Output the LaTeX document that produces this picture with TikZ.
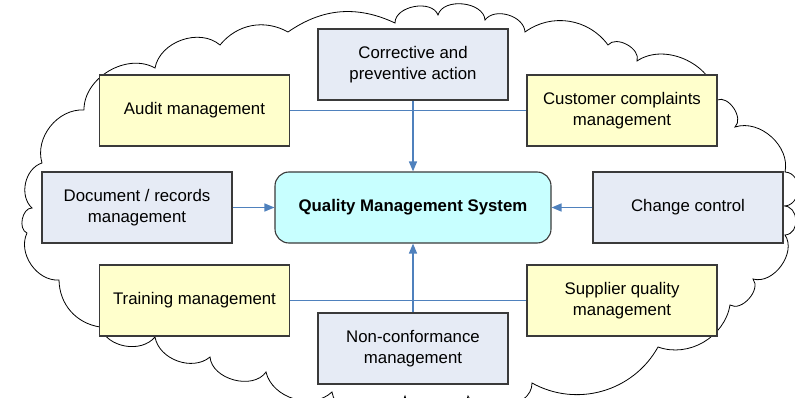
\documentclass[tikz,border=0pt]{standalone}
\usepackage{fontspec}
\setmainfont{Liberation Sans}
\usetikzlibrary{arrows.meta}
\definecolor{boxyellow}{HTML}{FFFFCC}
\definecolor{boxblue}{HTML}{E6EBF5}
\definecolor{boxcyan}{HTML}{C8FFFF}
\definecolor{linkblue}{HTML}{4F81BD}
\definecolor{boxedge}{HTML}{3A3A3A}
\tikzset{
  qbox/.style={draw=boxedge, line width=1.1pt, minimum width=190pt, minimum height=71pt,
    inner sep=0pt, align=center, font=\fontsize{16.8}{20.5}\selectfont},
  ybox/.style={qbox, fill=boxyellow},
  bbox/.style={qbox, fill=boxblue},
  core/.style={qbox, fill=boxcyan, minimum width=276pt, rounded corners=14pt, font=\fontsize{16.8}{20.5}\selectfont\bfseries},
  link/.style={draw=linkblue, line width=0.8pt},
  feed/.style={draw=linkblue, line width=1.5pt, -{Triangle[length=10pt,width=8pt]}},
  cloudline/.style={draw=black, line width=0.8pt}
}
\begin{document}
\begin{tikzpicture}[x=1pt,y=-1pt]
\useasboundingbox (0,0) rectangle (795,398);
\begin{scope}
\clip (0,0) rectangle (795,398);
\draw[cloudline]
 (84,110) to[bend left=60] (155,68)
 to[bend left=60] (220,45)
 to[bend left=40] (288,32)
 to[bend left=30] (395,23)
 to[bend left=80] (438,15)
 to[bend left=80] (485,20)
 to[bend left=70] (525,32)
 to[bend left=45] (608,45)
 to[bend left=80] (637,61)
 to[bend left=60] (717,100)
 to[bend left=80] (735,127)
 to[bend left=60] (785,172)
 to[bend left=90,looseness=1.4] (783,206)
 to[bend left=90,looseness=1.4] (785,235)
 to[bend left=70] (753,279)
 to[bend left=80] (730,305)
 to[bend left=50] (658,347)
 to[bend left=45] (532,383)
 to[bend left=80] (468,396)
 to[bend left=80] (405,396)
 to[bend left=80] (332,392)
 to[bend left=60] (266,372)
 to[bend left=70] (210,357)
 to[bend left=60] (155,337)
 to[bend left=60] (100,327)
 to[bend left=40] (59,280)
 to[bend left=60] (27,233)
 to[bend left=80] (32,208)
 to[bend left=60] (42,163)
 to[bend left=55] (84,110);
\end{scope}
\node[ybox] (audit) at (194.5,110.5) {Audit management};
\node[bbox] (corr) at (413,64.5) {Corrective and\\preventive action};
\node[ybox] (cust) at (622,110.5) {Customer complaints\\management};
\node[bbox] (doc) at (137,207.5) {Document / records\\management};
\node[core] (qms) at (413,207.5) {Quality Management System};
\node[bbox] (chg) at (688,207.5) {Change control};
\node[ybox] (train) at (194.5,300.5) {Training management};
\node[ybox] (supp) at (622,300.5) {Supplier quality\\management};
\node[bbox] (ncr) at (413,348.5) {Non-conformance\\management};
\draw[link] (audit.east) -- (cust.west);
\draw[link] (train.east) -- (supp.west);
\draw[feed] (corr.south) -- (qms.north);
\draw[feed] (ncr.north) -- (qms.south);
\draw[feed] (doc.east) -- (qms.west);
\draw[feed] (chg.west) -- (qms.east);
\end{tikzpicture}
\end{document}
